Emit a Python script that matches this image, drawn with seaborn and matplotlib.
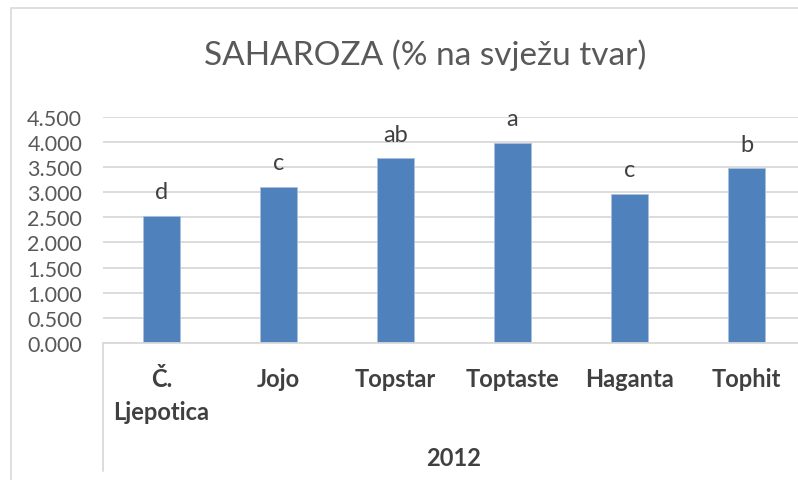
import matplotlib
matplotlib.use("Agg")
import matplotlib.pyplot as plt
import seaborn as sns
import pandas as pd
from matplotlib.ticker import FormatStrFormatter, MultipleLocator
from matplotlib.patches import Rectangle
from matplotlib.lines import Line2D

categories = ["Č.\nLjepotica", "Jojo", "Topstar", "Toptaste", "Haganta", "Tophit"]
values = [2.52, 3.11, 3.67, 3.98, 2.96, 3.47]
letters = ["d", "c", "ab", "a", "c", "b"]
group_label = "2012"
title = "SAHAROZA (% na svježu tvar)"

sns.set_style("white")
plt.rcParams["font.family"] = ["Lato", "DejaVu Sans"]

W, H = 798, 481
fig = plt.figure(figsize=(W / 100, H / 100), dpi=100)

def fx(px):
    return px / W

def fy(py):
    return 1 - py / H

# chart border
fig.patches.append(Rectangle((fx(11), fy(481 + 5)), fx(800), fy(9) - fy(486),
                             transform=fig.transFigure, fill=False,
                             edgecolor="#d9d9d9", linewidth=1.2))

ax_left, ax_right = 103, 805
ax_top, ax_bottom = 117.7, 344
ax = fig.add_axes([fx(ax_left), fy(ax_bottom), fx(ax_right - ax_left), (ax_bottom - ax_top) / H])

df = pd.DataFrame({"cat": categories, "val": values})
sns.barplot(data=df, x="cat", y="val", ax=ax, color="#4f81bd", saturation=1,
            width=0.315, edgecolor="#a9c0e0", linewidth=0.6)

ax.set_ylim(0, 4.5)
ax.set_xlim(-0.5, len(categories) - 0.5)
ax.yaxis.set_major_locator(MultipleLocator(0.5))
ax.yaxis.set_major_formatter(FormatStrFormatter("%.3f"))
ax.grid(axis="y", color="#d9d9d9", linewidth=1.3)
ax.set_axisbelow(True)
for s in ["top", "right", "left"]:
    ax.spines[s].set_visible(False)
ax.spines["bottom"].set_color("#d9d9d9")
ax.spines["bottom"].set_linewidth(1.3)
ax.tick_params(axis="y", length=0, pad=15, labelsize=15.5, labelcolor="#595959")
ax.tick_params(axis="x", length=0, pad=17, labelsize=17, labelcolor="#404040")
for lbl in ax.get_xticklabels():
    lbl.set_fontweight("bold")
    lbl.set_verticalalignment("top")
    lbl.set_linespacing(1.55)
ax.set_xlabel("")
ax.set_ylabel("")

for i, (v, t) in enumerate(zip(values, letters)):
    ax.annotate(t, (i, v), xytext=(0, 10), textcoords="offset points",
                ha="center", va="bottom", fontsize=17, color="#404040")

# multi-level axis lines
fig.lines.append(Line2D([fx(103), fx(103)], [fy(344), fy(472)], transform=fig.transFigure,
                        color="#d9d9d9", linewidth=1.3))
fig.text(fx(454), fy(458), group_label, ha="center", va="center", fontsize=17,
         fontweight="bold", color="#404040")

fig.text(fx(425), fy(55), title, ha="center", va="center", fontsize=24, color="#595959")

fig.savefig("out.png", dpi=100)
